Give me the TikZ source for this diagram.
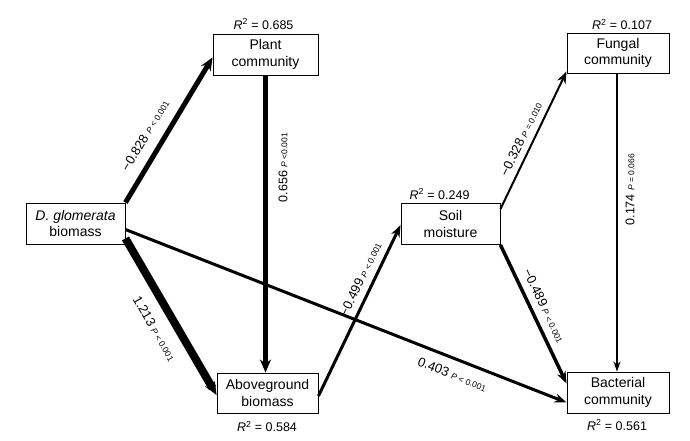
\documentclass[tikz,border=0pt]{standalone}
\usepackage{fontspec}
\setmainfont{Liberation Sans}
\usetikzlibrary{arrows.meta,calc}
\newcommand{\pv}[1]{{\fontsize{8.5}{10}\selectfont\textit{P} #1}}
\newcommand{\rsq}[1]{\textit{R}\textsuperscript{2} = #1}
\begin{document}
\begin{tikzpicture}[x=1pt,y=-1pt,
  box/.style={draw, line width=0.9pt, align=center, inner sep=0pt,
    font=\fontsize{14}{16.5}\selectfont},
  rlab/.style={font=\fontsize{12.5}{14}\selectfont, inner sep=0pt},
  elab/.style={font=\fontsize{13}{15}\selectfont, inner sep=1.5pt},
  vlab/.style={font=\fontsize{12.5}{15}\selectfont},
  tipA/.style={-{Stealth[length=13pt,width=11pt]}},
  tipB/.style={-{Stealth[length=12pt,width=9pt]}},
  tipC/.style={-{Stealth[length=10pt,width=7pt]}}
]
\useasboundingbox (0,0) rectangle (690,441);

% boxes
\node[box, minimum width=99pt, minimum height=41pt] (dg) at (75.5,223.5) {\textit{D. glomerata}\\biomass};
\node[box, minimum width=105pt, minimum height=41pt] (plant) at (265.5,54.5) {Plant\\community};
\node[box, minimum width=101pt, minimum height=40pt] (above) at (267.5,393) {Aboveground\\biomass};
\node[box, minimum width=99pt, minimum height=41pt] (soil) at (450.5,224) {Soil\\moisture};
\node[box, minimum width=102pt, minimum height=40pt] (fungal) at (618,53) {Fungal\\community};
\node[box, minimum width=102pt, minimum height=41pt] (bact) at (618,392.5) {Bacterial\\community};

% R^2 labels
\node[rlab] (rplant) at (263.5,24) {\rsq{0.685}};
\node[rlab] (rfung) at (622,24.5) {\rsq{0.107}};
\node[rlab] (rsoil) at (439.5,194) {\rsq{0.249}};
\node[rlab] (rabove) at (267,426.5) {\rsq{0.584}};
\node[rlab] (rbact) at (617,425) {\rsq{0.561}};

% connectors
\draw[line width=5pt, tipA] (dg.north east) -- ($(plant.south west)+(0,-18)$)
  node[elab, sloped, above=9pt, pos=.40] {−0.828 \pv{< 0.001}};
\draw[line width=8pt, tipA] ($(dg.south east)+(0,-6)$) -- ($(above.west)+(0,2)$)
  node[elab, sloped, below=10pt, pos=.51] {1.213 \pv{< 0.001}};
\draw[line width=3pt, tipB] ($(dg.east)+(0,6)$) -- ($(bact.west)+(0,10)$)
  node[elab, sloped, below=8pt, pos=.754] {0.403 \pv{< 0.001}};
\draw[line width=4.5pt, tipA] (plant.south) -- (plant.south |- above.north)
  node[vlab, rotate=90, anchor=north, inner sep=11pt, pos=.31] {0.656 \pv{<0.001}};
\draw[line width=3pt, tipB] ($(above.east)+(0,3)$) -- ($(soil.west)+(0,1)$)
  node[elab, sloped, above=5pt, pos=.65] {−0.499 \pv{< 0.001}};
\draw[line width=2pt, tipB] ($(soil.east)+(0,-15)$) -- ($(fungal.south west)+(0,-2)$)
  node[elab, sloped, above=4.5pt, pos=.47] {−0.328 \pv{= 0.010}};
\draw[line width=3.5pt, tipB] (soil.south east) -- ($(bact.west)+(0,-9)$)
  node[elab, sloped, above=5.5pt, pos=.48] {−0.489 \pv{< 0.001}};
\draw[line width=1.2pt, tipC] ($(fungal.south)+(-1,0)$) -- ($(bact.north)+(-1,0)$)
  node[vlab, rotate=90, anchor=north, inner sep=8pt, pos=.39] {0.174 \pv{= 0.066}};
\end{tikzpicture}
\end{document}
